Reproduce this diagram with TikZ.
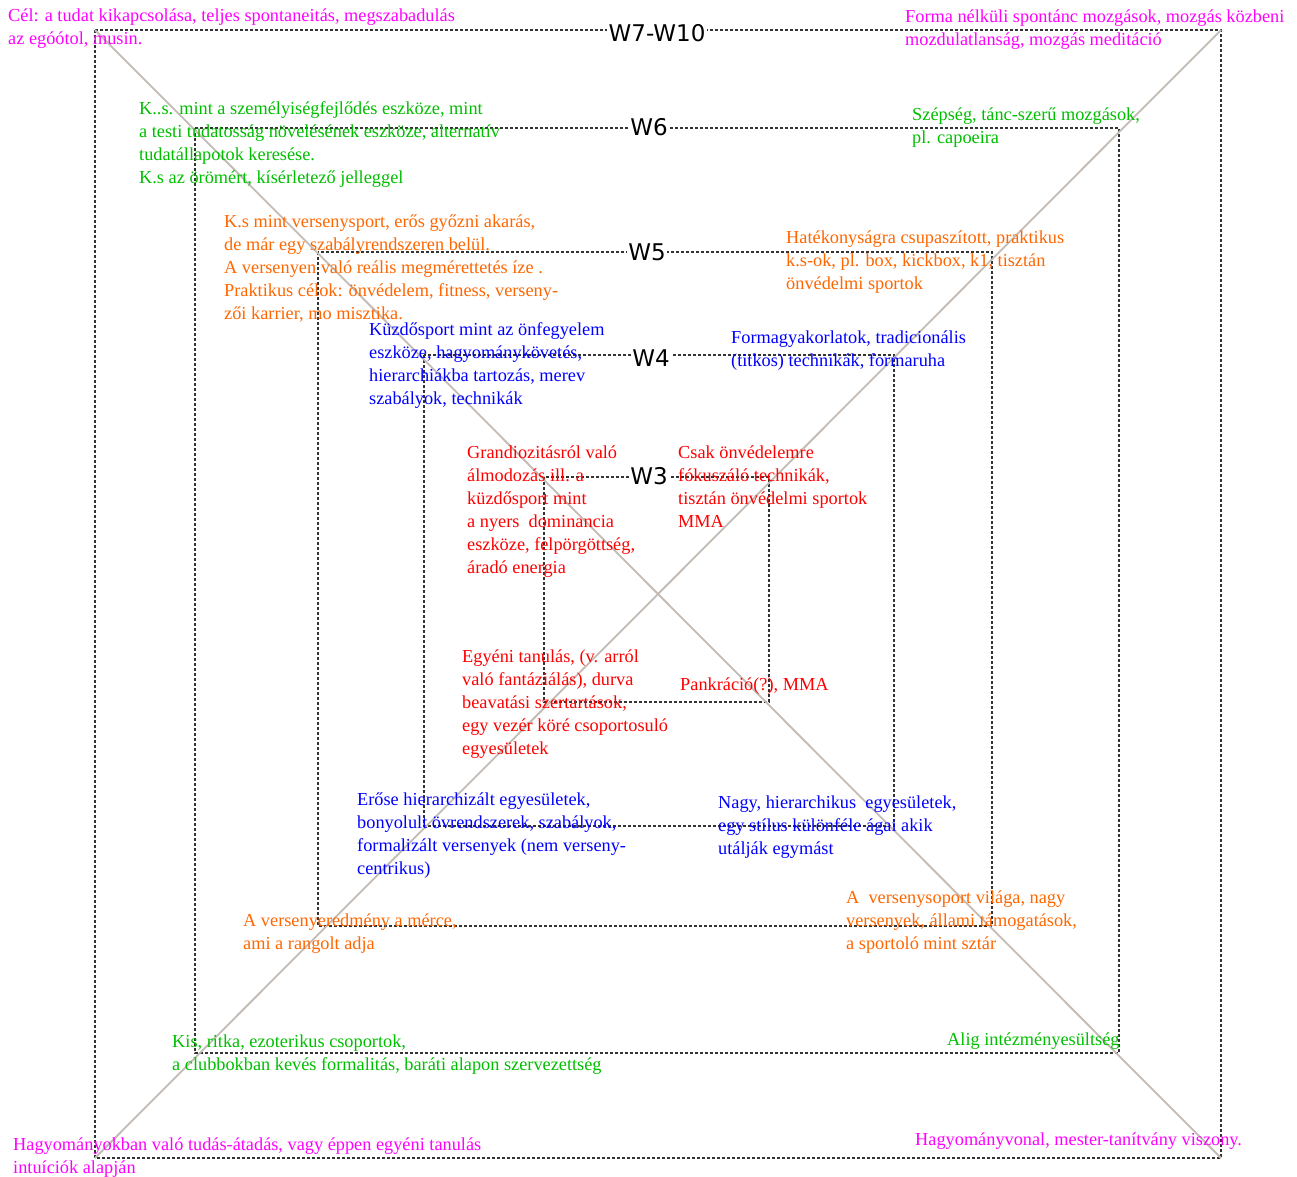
\documentclass[tikz,border=0pt]{standalone}
\usepackage{fontspec}
\setmainfont{Liberation Serif}
\setsansfont{DejaVu Sans}
\usepackage{xcolor}
\usetikzlibrary{positioning}

\definecolor{tmagenta}{RGB}{255,0,255}
\definecolor{tgreen}{RGB}{0,190,0}
\definecolor{torange}{RGB}{255,102,0}
\definecolor{tblue}{RGB}{0,0,255}
\definecolor{tred}{RGB}{255,0,0}
\definecolor{diaggray}{RGB}{195,187,180}

\begin{document}
\begin{tikzpicture}[
  x=1pt,y=-1pt,
  every node/.style={inner sep=0pt},
  lvl/.style={draw=black!80,line width=1.2pt,dash pattern=on 3pt off 2pt},
  diag/.style={draw=diaggray,line width=1.8pt},
  wlab/.style={font=\sffamily\fontsize{23}{26}\selectfont,fill=white,inner sep=1.5pt},
  txt/.style={anchor=north west,align=left,font=\fontsize{18.3}{23}\selectfont}
]
\useasboundingbox (0,0) rectangle (1297,1176);
% level boxes
\coordinate (otl) at (95,30);
\coordinate (otr) at (1221,30);
\coordinate (obl) at (95,1158);
\coordinate (obr) at (1221,1158);
\draw[lvl] (otl) rectangle (obr);
\draw[lvl] (195,128) rectangle (1119,1053);
\draw[lvl] (318,252) rectangle (992,926);
\draw[lvl] (424,355) rectangle (894,826);
\draw[lvl] (544,477) rectangle (769,702);
\draw[diag] (otl) -- (obr);
\draw[diag] (otr) -- (obl);
% level labels
\node[wlab] (w7) at (657,33.5) {W7-W10};
\node[wlab] (w6) at (649,127) {W6};
\node[wlab] (w5) at (647,252.5) {W5};
\node[wlab] (w4) at (651,358) {W4};
\node[wlab] (w3) at (649,476) {W3};
% W7-W10
\node[txt,text=tmagenta] (w7tl) at (8,5) {\strut Cél: a tudat kikapcsolása, teljes spontaneitás, megszabadulás\\az egóótol, musin.};
\node[txt,text=tmagenta] (w7tr) at (905,6) {\strut Forma nélküli spontánc mozgások, mozgás közbeni\\mozdulatlanság, mozgás meditáció};
\node[txt,text=tmagenta] (w7bl) at (13,1134) {\strut Hagyományokban való tudás-átadás, vagy éppen egyéni tanulás\\intuíciók alapján};
\node[txt,text=tmagenta] (w7br) at (915,1129) {\strut Hagyományvonal, mester-tanítvány viszony.};
% W6
\node[txt,text=tgreen] (w6tl) at (139,98) {\strut K..s. mint a személyiségfejlődés eszköze, mint\\a testi tudatosság növelésének eszköze, alternatív\\tudatállapotok keresése.\\K.s az örömért, kísérletező jelleggel};
\node[txt,text=tgreen] (w6tr) at (912,104) {\strut Szépség, tánc-szerű mozgások,\\pl. capoeira};
\node[txt,text=tgreen] (w6bl) at (172,1031) {\strut Kis, ritka, ezoterikus csoportok,\\a clubbokban kevés formalitás, baráti alapon szervezettség};
\node[txt,text=tgreen] (w6br) at (947,1029) {\strut Alig intézményesültség};
% W5
\node[txt,text=torange] (w5tl) at (224,211) {\strut K.s mint versenysport, erős győzni akarás,\\de már egy szabályrendszeren belül.\\A versenyen való reális megmérettetés íze .\\Praktikus célok: önvédelem, fitness, verseny-\\zői karrier, mo misztika.};
\node[txt,text=torange] (w5tr) at (786,227) {\strut Hatékonyságra csupaszított, praktikus\\k.s-ok, pl. box, kickbox, k1, tisztán\\önvédelmi sportok};
\node[txt,text=torange] (w5bl) at (243,910) {\strut A versenyeredmény a mérce,\\ami a rangolt adja};
\node[txt,text=torange] (w5br) at (846,887) {\strut A \ versenysoport világa, nagy\\versenyek, állami támogatások,\\a sportoló mint sztár};
% W4
\node[txt,text=tblue] (w4tl) at (369,319) {\strut Küzdősport mint az önfegyelem\\eszköze, hagyománykövetés,\\hierarchiákba tartozás, merev\\szabályok, technikák};
\node[txt,text=tblue] (w4tr) at (731,327) {\strut Formagyakorlatok, tradicionális\\(titkos) technikák, formaruha};
\node[txt,text=tblue] (w4bl) at (357,789) {\strut Erőse hierarchizált egyesületek,\\bonyolult övrendszerek, szabályok,\\formalizált versenyek (nem verseny-\\centrikus)};
\node[txt,text=tblue] (w4br) at (718,792) {\strut Nagy, hierarchikus \ egyesületek,\\egy stílus különféle ágai akik\\utálják egymást};
% W3
\node[txt,text=tred] (w3tl) at (467,442) {\strut Grandiozitásról való\\álmodozás ill. a\\küzdősport mint\\a nyers \ dominancia\\eszköze, felpörgöttség,\\áradó energia};
\node[txt,text=tred] (w3tr) at (678,442) {\strut Csak önvédelemre\\fókuszáló technikák,\\tisztán önvédelmi sportok\\MMA};
\node[txt,text=tred] (w3bl) at (462,646) {\strut Egyéni tanulás, (v. arról\\való fantáziálás), durva\\beavatási szertartások,\\egy vezér köré csoportosuló\\egyesületek};
\node[txt,text=tred] (w3br) at (680,674) {\strut Pankráció(?), MMA};
\end{tikzpicture}
\end{document}
